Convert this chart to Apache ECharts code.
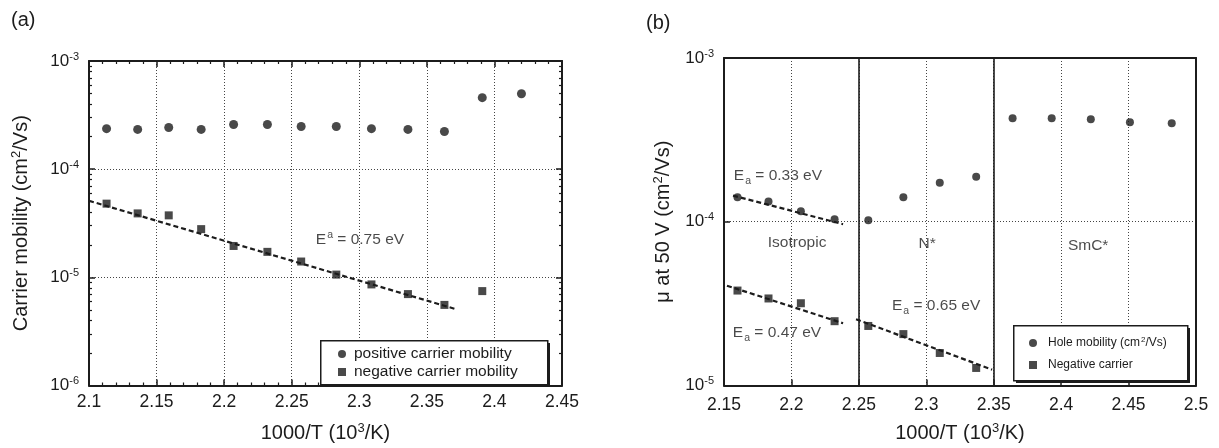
<!DOCTYPE html>
<html><head><meta charset="utf-8">
<script src="https://cdn.jsdelivr.net/npm/echarts@6/dist/echarts.min.js"></script>
<style>html,body{margin:0;padding:0;background:#fff}#c{width:1219px;height:448px}</style>
</head><body><div id="c"></div>
<script>
// ---------- Panel (a) data ----------
const xA_pos = [2.113, 2.136, 2.159, 2.183, 2.207, 2.232, 2.257, 2.283, 2.309, 2.336, 2.363, 2.391, 2.420];
const yA_pos = [2.37e-4, 2.33e-4, 2.43e-4, 2.33e-4, 2.59e-4, 2.59e-4, 2.48e-4, 2.48e-4, 2.37e-4, 2.33e-4, 2.23e-4, 4.58e-4, 4.98e-4];
const xA_neg = [2.113, 2.136, 2.159, 2.183, 2.207, 2.232, 2.257, 2.283, 2.309, 2.336, 2.363, 2.391];
const yA_neg = [4.8e-5, 3.9e-5, 3.74e-5, 2.79e-5, 1.95e-5, 1.72e-5, 1.40e-5, 1.06e-5, 8.6e-6, 7.0e-6, 5.56e-6, 7.46e-6];
const fitA_x = [2.100, 2.371];
const fitA_y = [5.1e-5, 5.1e-6];
const xTicksA = [2.1, 2.15, 2.2, 2.25, 2.3, 2.35, 2.4, 2.45];
const yTicksA = [1e-6, 1e-5, 1e-4, 1e-3];
const annA = [[2.3005, 2.21e-5, '{t|E}{sup|a}{t| = 0.75 eV}']];
const legendA = ['positive carrier mobility', 'negative carrier mobility'];

// ---------- Panel (b) data ----------
const xB_hole = [2.160, 2.183, 2.207, 2.232, 2.257, 2.283, 2.310, 2.337, 2.364, 2.393, 2.422, 2.451, 2.482];
const yB_hole = [1.41e-4, 1.33e-4, 1.16e-4, 1.035e-4, 1.02e-4, 1.41e-4, 1.73e-4, 1.88e-4, 4.28e-4, 4.28e-4, 4.22e-4, 4.05e-4, 3.99e-4];
const xB_neg = [2.160, 2.183, 2.207, 2.232, 2.257, 2.283, 2.310, 2.337];
const yB_neg = [3.80e-5, 3.40e-5, 3.18e-5, 2.47e-5, 2.31e-5, 2.06e-5, 1.58e-5, 1.28e-5];
const fitB1_x = [2.1567, 2.2383];
const fitB1_y = [1.445e-4, 9.66e-5];
const fitB2_x = [2.1522, 2.2383];
const fitB2_y = [4.07e-5, 2.40e-5];
const fitB3_x = [2.2479, 2.3488];
const fitB3_y = [2.54e-5, 1.25e-5];
const phaseB = [2.248, 2.353];
const xTicksB = [2.15, 2.2, 2.25, 2.3, 2.35, 2.4, 2.45, 2.5];
const yTicksB = [1e-5, 1e-4, 1e-3];
const annB = [
  [2.190, 1.91e-4, '{t|E}{sub|a}{t| = 0.33 eV}'],
  [2.2042, 7.41e-5, '{t|Isotropic}'],
  [2.3006, 7.31e-5, '{t|N*}'],
  [2.420, 7.11e-5, '{t|SmC*}'],
  [2.3073, 3.08e-5, '{t|E}{sub|a}{t| = 0.65 eV}'],
  [2.1893, 2.09e-5, '{t|E}{sub|a}{t| = 0.47 eV}']
];
const legendB = ['Hole mobility (cm²/Vs)', 'Negative carrier'];

const FONT = 'Liberation Sans';
const INK = '#1c1c1c';
const zip = (a, b) => a.map((v, i) => [v, b[i]]);
function logMinor(lo, hi) {
  const out = [];
  for (let e = lo; e < hi; e++) for (let k = 2; k <= 9; k++) out.push(k * Math.pow(10, e));
  return out;
}
const richAxis = {
  b: {fontSize: 17, fontFamily: FONT, color: INK},
  s: {fontSize: 11, fontFamily: FONT, color: INK, verticalAlign: 'top', padding: [0, 0, 9, 0]}
};
const expLabel = v => '{b|10}{s|' + Math.round(Math.log10(v)) + '}';
const annRich = {
  t: {fontSize: 15.5, fontFamily: FONT, color: INK},
  sub: {fontSize: 10.5, fontFamily: FONT, color: INK, padding: [11, 0, 0, 1]},
  sup: {fontSize: 10.5, fontFamily: FONT, color: INK, padding: [0, 0, 9, 1]}
};
const gridLine = {show: true, lineStyle: {color: '#444', type: [1, 2], width: 1}};
const titleRich = {s: {fontSize: 13, fontFamily: FONT, color: INK, verticalAlign: 'top', padding: [0, 0, 10, 0]}};

function xAxes(gi, min, max, ticks, opts) {
  const base = {
    type: 'value', gridIndex: gi, min: min, max: max, interval: 0.05,
    axisLine: {show: true, onZero: false, lineStyle: {color: INK, width: 2}},
    axisTick: {show: true, inside: true, length: 6, lineStyle: {color: INK, width: 1.5}},
    minorTick: {show: opts.minor, splitNumber: 5, length: 3, lineStyle: {color: INK, width: 1.2}},
    splitLine: {show: false}
  };
  return [
    Object.assign({}, base, {
      position: 'bottom',
      splitLine: gridLine,
      axisLabel: {show: true, margin: opts.labelMargin, fontSize: 17.5, fontFamily: FONT, color: INK,
        formatter: v => { const t = ticks.find(x => Math.abs(x - v) < 1e-6); return t === undefined ? '' : String(t); }},
      name: '1000/T (10{s|3}/K)', nameLocation: 'middle', nameGap: 36,
      nameTextStyle: {fontSize: 20, fontFamily: FONT, color: INK, rich: titleRich}
    }),
    Object.assign({}, base, {position: 'top', axisLabel: {show: false},
      axisTick: {show: opts.topTicks, inside: true, length: 6, lineStyle: {color: INK, width: 1.5}},
      minorTick: {show: opts.minor && opts.topTicks, splitNumber: 5, length: 3, lineStyle: {color: INK, width: 1.2}}})
  ];
}
function yAxes(gi, min, max, opts) {
  const base = {
    type: 'log', logBase: 10, gridIndex: gi, min: min, max: max,
    axisLine: {show: true, onZero: false, lineStyle: {color: INK, width: 2}},
    axisTick: {show: true, inside: true, length: 6, lineStyle: {color: INK, width: 1.5}},
    splitLine: {show: false}, axisLabel: {show: false}
  };
  const arr = [
    Object.assign({}, base, {
      position: 'left', splitLine: gridLine,
      axisLabel: {show: true, margin: 10, formatter: expLabel, rich: richAxis},
      name: opts.title, nameLocation: 'middle', nameGap: opts.nameGap, nameRotate: 90,
      nameTextStyle: {fontSize: 20, fontFamily: FONT, color: INK, rich: titleRich}
    }),
    Object.assign({}, base, {position: 'right', axisTick: {show: opts.rightTicks, inside: true, length: 6, lineStyle: {color: INK, width: 1.5}}})
  ];
  if (opts.minor) {
    const m = logMinor(Math.round(Math.log10(min)), Math.round(Math.log10(max)));
    ['left', 'right'].forEach(p => arr.push(Object.assign({}, base, {
      position: p, axisLine: {show: false},
      axisTick: {show: true, inside: true, length: 3, customValues: m, lineStyle: {color: INK, width: 1.2}}
    })));
  }
  return arr;
}

const xAxis = [].concat(
  xAxes(0, 2.1, 2.45, xTicksA, {minor: true, topTicks: true, labelMargin: 8}),
  xAxes(1, 2.15, 2.5, xTicksB, {minor: false, topTicks: false, labelMargin: 11})
);
const yAxisA = yAxes(0, 1e-6, 1e-3, {minor: true, rightTicks: true, title: 'Carrier mobility (cm{s|2}/Vs)', nameGap: 56});
const yAxisB = yAxes(1, 1e-5, 1e-3, {minor: false, rightTicks: false, title: 'μ at 50 V (cm{s|2}/Vs)', nameGap: 49});
const yAxis = yAxisA.concat(yAxisB);
const yB0 = yAxisA.length;

const marker = {color: INK};
const dashLine = {color: INK, width: 2.2, type: [5, 3]};

const series = [
  {name: legendA[0], type: 'scatter', xAxisIndex: 0, yAxisIndex: 0, symbol: 'circle', symbolSize: 9, itemStyle: marker, data: zip(xA_pos, yA_pos), z: 5},
  {name: legendA[1], type: 'scatter', xAxisIndex: 0, yAxisIndex: 0, symbol: 'rect', symbolSize: 8, itemStyle: marker, data: zip(xA_neg, yA_neg), z: 5},
  {type: 'line', xAxisIndex: 0, yAxisIndex: 0, symbol: 'none', lineStyle: dashLine, data: zip(fitA_x, fitA_y), z: 4},
  {type: 'scatter', xAxisIndex: 0, yAxisIndex: 0, symbolSize: 0, silent: true,
    data: annA.map(a => ({value: [a[0], a[1]], label: {formatter: a[2]}})),
    label: {show: true, position: 'inside', rich: annRich}},

  {name: legendB[0], type: 'scatter', xAxisIndex: 2, yAxisIndex: yB0, symbol: 'circle', symbolSize: 8, itemStyle: marker, data: zip(xB_hole, yB_hole), z: 5,
    markLine: {silent: true, symbol: 'none', label: {show: false}, lineStyle: {color: INK, type: 'solid', width: 1.6},
      data: phaseB.map(v => ({xAxis: v}))}},
  {name: legendB[1], type: 'scatter', xAxisIndex: 2, yAxisIndex: yB0, symbol: 'rect', symbolSize: 8, itemStyle: marker, data: zip(xB_neg, yB_neg), z: 5},
  {type: 'line', xAxisIndex: 2, yAxisIndex: yB0, symbol: 'none', lineStyle: dashLine, data: zip(fitB1_x, fitB1_y), z: 4},
  {type: 'line', xAxisIndex: 2, yAxisIndex: yB0, symbol: 'none', lineStyle: dashLine, data: zip(fitB2_x, fitB2_y), z: 4},
  {type: 'line', xAxisIndex: 2, yAxisIndex: yB0, symbol: 'none', lineStyle: dashLine, data: zip(fitB3_x, fitB3_y), z: 4},
  {type: 'scatter', xAxisIndex: 2, yAxisIndex: yB0, symbolSize: 0, silent: true,
    data: annB.map(a => ({value: [a[0], a[1]], label: {formatter: a[2]}})),
    label: {show: true, position: 'inside', rich: annRich}}
];

const legendBase = {
  orient: 'vertical', backgroundColor: 'transparent', borderWidth: 0, padding: 0,
  itemWidth: 8, itemHeight: 8, symbolKeepAspect: true,
  itemStyle: {color: INK}, inactiveColor: INK, selectedMode: false, z: 20
};
function box(x, y, w, h) {
  return [
    {type: 'rect', left: x + 3, top: y + 3, shape: {width: w, height: h}, style: {fill: INK}, z: 15},
    {type: 'rect', left: x, top: y, shape: {width: w, height: h}, style: {fill: '#fff', stroke: INK, lineWidth: 1.5}, z: 16}
  ];
}

const option = {
  backgroundColor: '#fff',
  animation: false,
  textStyle: {fontFamily: FONT},
  title: [
    {text: '(a)', left: 6, top: 5, textStyle: {fontSize: 20, fontWeight: 'normal', fontFamily: FONT, color: INK}},
    {text: '(b)', left: 641, top: 8, textStyle: {fontSize: 20, fontWeight: 'normal', fontFamily: FONT, color: INK}}
  ],
  grid: [
    {left: 89, top: 61, width: 473, height: 330},
    {left: 724, top: 58, width: 472, height: 331}
  ],
  graphic: [].concat(box(320, 340, 227, 44), box(1013, 325, 174, 55)),
  legend: [
    Object.assign({}, legendBase, {
      left: 338, top: 346, itemGap: 2,
      formatter: n => '{p|' + n + '}',
      textStyle: {fontSize: 15.5, fontFamily: FONT, color: INK, rich: {p: {fontSize: 15.5, fontFamily: FONT, color: INK, padding: [0, 0, 0, 3]}}},
      data: [{name: legendA[0], icon: 'circle'}, {name: legendA[1], icon: 'rect'}]
    }),
    Object.assign({}, legendBase, {
      left: 1029, top: 336, itemGap: 10,
      formatter: n => n === legendB[0] ? '{p|Hole mobility (cm}{s|2}{q|/Vs)}' : '{p|' + n + '}',
      textStyle: {fontSize: 12, fontFamily: FONT, color: INK, rich: {
        p: {fontSize: 12, fontFamily: FONT, color: INK, padding: [0, 0, 0, 6]},
        q: {fontSize: 12, fontFamily: FONT, color: INK},
        s: {fontSize: 8, fontFamily: FONT, color: INK, verticalAlign: 'top', padding: [0, 0, 6, 1]}}},
      data: [{name: legendB[0], icon: 'circle'}, {name: legendB[1], icon: 'rect'}]
    })
  ],
  xAxis: xAxis,
  yAxis: yAxis,
  series: series
};
const chart = echarts.init(document.getElementById('c'), null, {renderer: 'canvas'});
chart.setOption(option);
</script>
</body></html>
